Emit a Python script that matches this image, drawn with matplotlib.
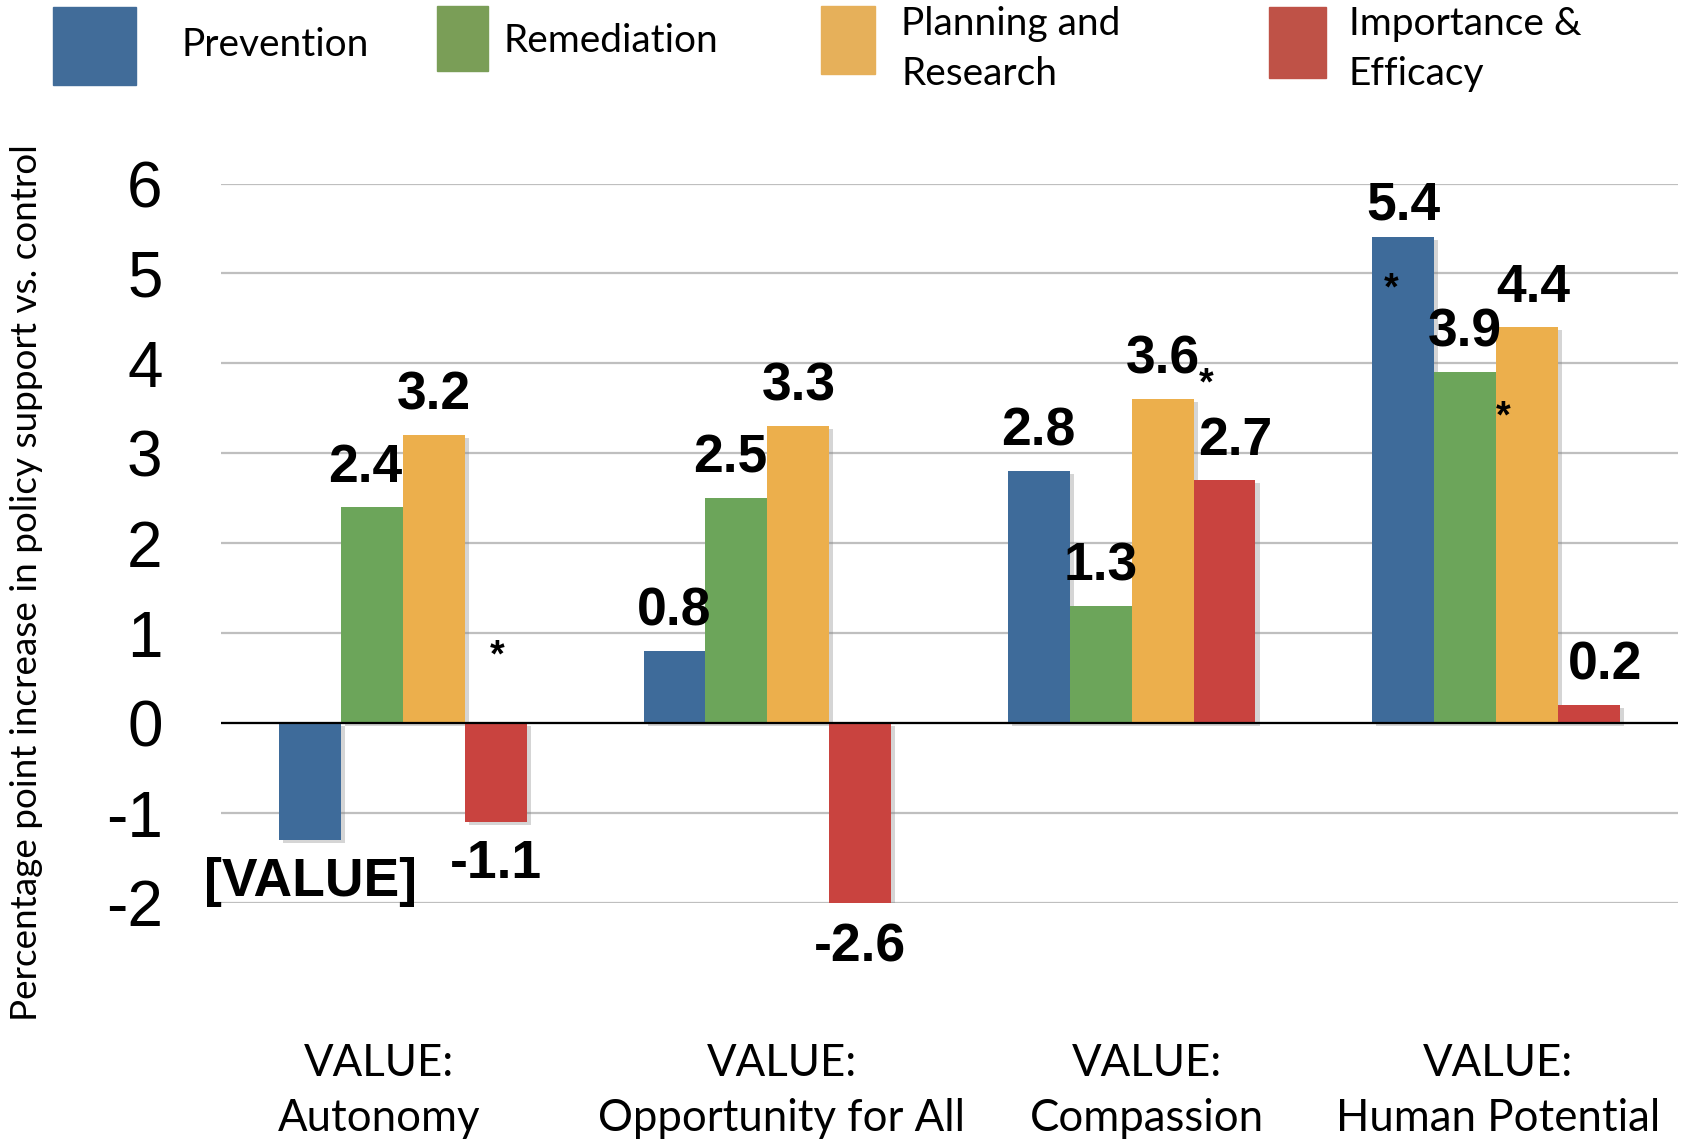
import numpy as np
import matplotlib.pyplot as plt
from matplotlib.patches import Rectangle
import matplotlib.patheffects as pe

categories = ["VALUE:\nAutonomy", "VALUE:\nOpportunity for All",
              "VALUE:\nCompassion", "VALUE:\nHuman Potential"]
series = ["Prevention", "Remediation", "Planning and\nResearch", "Importance &\nEfficacy"]
prevention = [-1.3, 0.8, 2.8, 5.4]
remediation = [2.4, 2.5, 1.3, 3.9]
planning = [3.2, 3.3, 3.6, 4.4]
importance = [-1.1, -2.6, 2.7, 0.2]
values = [prevention, remediation, planning, importance]
# label text per bar (first Prevention label was left as placeholder in source)
labels = [["[VALUE]", "0.8", "2.8", "5.4"],
          ["2.4", "2.5", "1.3", "3.9"],
          ["3.2", "3.3", "3.6", "4.4"],
          ["-1.1", "-2.6", "2.7", "0.2"]]
# significance stars (category position, y value)
stars = [(0.258, 0.74), (2.205, 3.77), (2.712, 4.82), (3.02, 3.40)]

bar_colors = ["#3E6B9A", "#6CA55A", "#ECAF4C", "#C9433F"]
legend_colors = ["#416C99", "#7A9E57", "#E6B05A", "#BF5247"]

W, H = 1692, 1141
fig = plt.figure(figsize=(W / 100, H / 100), dpi=100)
ax = fig.add_axes([221 / W, 1 - 903 / H, (1678 - 221) / W, (903 - 183.5) / H])

ymin, ymax = -2, 6
bw = 0.17
x = np.arange(len(categories))
shadow = [pe.SimplePatchShadow(offset=(3, -2), shadow_rgbFace="#888888", alpha=0.35), pe.Normal()]
for i, vals in enumerate(values):
    pos = x + (i - 1.5) * bw
    bars = ax.bar(pos, vals, width=bw, color=bar_colors[i], zorder=3)
    for b in bars:
        b.set_path_effects(shadow)
    for j, v in enumerate(vals):
        end = min(max(v, ymin), ymax)
        dy = 0.44 if v >= 0 else -0.47
        dx = 0.0
        if (i, j) == (0, 3):
            dy = 0.36
        if i == 1 and j < 2:
            dx = -0.018
        if i == 3 and j >= 2:
            dx = [0.03, 0.044][j - 2]
        if (i, j) == (2, 3):
            dx = 0.018
        if (i, j) == (3, 1):
            dy = -0.49
        ax.text(pos[j] + dx, end + dy, labels[i][j], ha="center", va="center",
                fontsize=38.5, fontweight="bold", family="Liberation Sans", zorder=5)

for sx, sy in stars:
    ax.text(sx, sy, "*", ha="center", va="center", fontsize=27,
            fontweight="bold", family="Liberation Sans", zorder=5)

ax.set_xlim(-0.5, 3.5)
ax.set_ylim(ymin, ymax)
ax.set_yticks(range(ymin, ymax + 1))
ax.set_yticklabels([str(t) for t in range(ymin, ymax + 1)], family="Liberation Sans", fontsize=46)
ax.yaxis.grid(True, color="#BFBFBF", linewidth=1.6, zorder=0)
ax.axhline(0, color="black", linewidth=1.6, zorder=4)
ax.tick_params(axis="y", length=0, pad=42)
ax.set_xticks(x)
ax.set_xticklabels([])
ax.tick_params(axis="x", length=0)
for s in ax.spines.values():
    s.set_visible(False)

# category labels sit slightly off the group centres in the source
cat_shift = [-0.065, 0.039, 0.041, 0.006]
for k, name in enumerate(categories):
    ax.text(x[k] + cat_shift[k], -0.195, name, transform=ax.get_xaxis_transform(),
            ha="center", va="top", fontsize=31.5, family=["Lato", "DejaVu Sans"],
            linespacing=1.42)

fig.text(27 / W, 1 - 583 / H, "Percentage point increase in policy support vs. control",
         rotation=90, ha="center", va="center", fontsize=26.6, family=["Lato", "DejaVu Sans"])

# legend drawn by hand to follow the source layout
patches = [(53, 6.5, 136, 85), (437, 6.5, 488, 71), (821, 6.5, 875, 74), (1269, 6.5, 1326, 78)]
text_pos = [(181, 45), (503, 41), (901, 49), (1349, 49)]
for k, name in enumerate(series):
    x0, y0, x1, y1 = patches[k]
    fig.patches.append(Rectangle((x0 / W, 1 - y1 / H), (x1 - x0) / W, (y1 - y0) / H,
                                 transform=fig.transFigure, color=legend_colors[k]))
    tx, ty = text_pos[k]
    fig.text(tx / W, 1 - ty / H, name, ha="left", va="center", fontsize=28,
             family=["Lato", "DejaVu Sans"], linespacing=1.5)

fig.savefig("out.png", dpi=100)
